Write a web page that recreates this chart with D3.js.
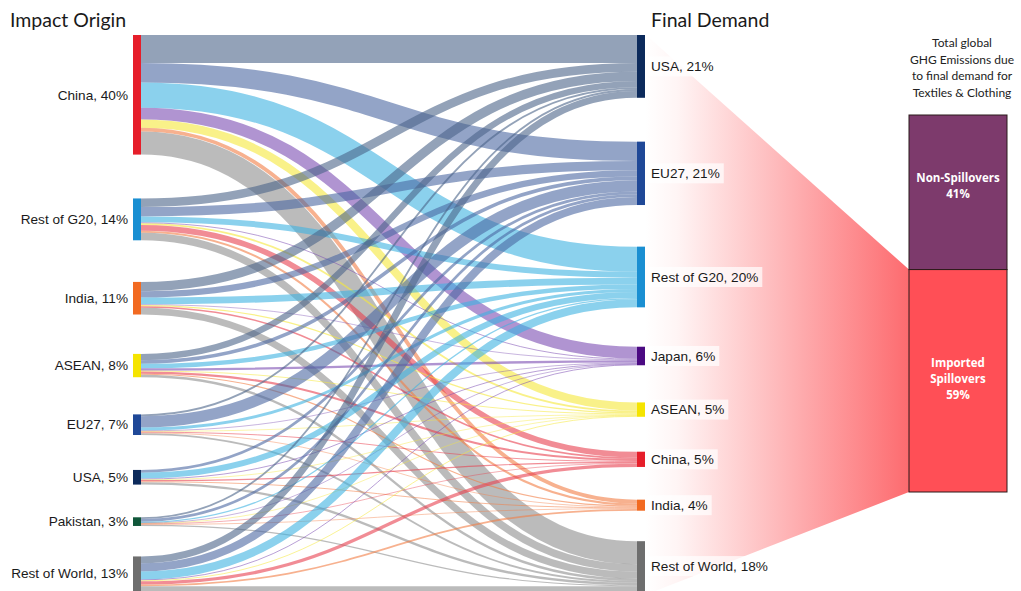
<!DOCTYPE html>
<meta charset="utf-8">
<style>
    body { margin: 0; background: #fff; }
    .lbl { font: 13.6px "Liberation Sans", Arial, sans-serif; fill: #1a1a1a; }
    .title { font: 19.5px Lato, "Open Sans", sans-serif; fill: #1a1a1a; }
    .bartitle { font: 12px Lato, "Open Sans", sans-serif; fill: #222; }
    .barlbl { font: bold 11.5px "Open Sans", sans-serif; fill: #fff; }
</style>
<body>
<div id="plotarea"></div>
<script src="https://cdn.jsdelivr.net/npm/d3@7"></script>
<script>

    // impact origin (left) and final demand (right)
    var origins = ["China", "Rest of G20", "India", "ASEAN", "EU27", "USA", "Pakistan", "Rest of World"];
    var originShares = [40, 14, 11, 8, 7, 5, 3, 13];
    var demands = ["USA", "EU27", "Rest of G20", "Japan", "ASEAN", "China", "India", "Rest of World"];
    var demandShares = [21, 21, 20, 6, 5, 5, 4, 18];

    // flows in % of total, rows = origin, columns = demand (same order as demands)
    var flows = [
        [9.4, 6.5, 8.4, 4.0, 2.7, 0.0, 1.3, 7.7],
        [2.9, 3.1, 2.0, 0.3, 0.6, 1.9, 0.7, 2.5],
        [3.1, 2.1, 2.3, 0.2, 0.4, 0.5, 0.0, 2.3],
        [2.1, 1.2, 1.5, 0.8, 0.3, 0.7, 0.4, 0.8],
        [0.6, 3.8, 1.0, 0.2, 0.2, 0.3, 0.2, 0.6],
        [0.0, 0.9, 2.0, 0.3, 0.2, 0.4, 0.3, 0.8],
        [0.6, 0.9, 0.4, 0.1, 0.1, 0.2, 0.2, 0.4],
        [2.3, 2.7, 2.7, 0.3, 0.3, 1.1, 0.6, 2.9]
    ];

    // split of total global GHG emissions
    var splitNames = [["Non-Spillovers"], ["Imported", "Spillovers"]];
    var splitShares = [41, 59];
    var barTitle = ["Total global", "GHG Emissions due", "to final demand for", "Textiles & Clothing"];

    var originColors = ["#e61e2a", "#1a8fd2", "#f26a21", "#f5e400", "#1f4897", "#0c2a5b", "#10573a", "#6e6e6e"];
    var demandColors = ["#0c2a5b", "#1f4897", "#1a8fd2", "#4b0a82", "#f5e400", "#e61e2a", "#f26a21", "#6e6e6e"];
    var linkColors = ["#4b6489", "#4b67a1", "#3db2e1", "#7b4cb2", "#f5e83a", "#e8404f", "#f27d45", "#8e8e8e"];

    var width = 1021, height = 591;
    var yTop = 35, yBottom = 595;
    var xLeft = 133, xRight = 637, nodeW = 8;

    var svg = d3.select("#plotarea").append("svg")
            .attr("width", width)
            .attr("height", height);

    var k = d3.scaleLinear().domain([0, 1]).range([0, 2.99]);

    var rowSums = flows.map(function(r) { return d3.sum(r); });
    var colSums = demands.map(function(d, j) { return d3.sum(flows, function(r) { return r[j]; }); });

    // gaps shrink a little towards the bottom
    function column(names, values) {
        var gaps = names.length - 1;
        var pad = (yBottom - yTop - k(d3.sum(values))) / gaps;
        var y = yTop;
        return names.map(function(name, i) {
            var n = {name: name, i: i, y0: y, y1: y + k(values[i])};
            y = n.y1 + pad * (1 + 0.06 * (3 - i));
            return n;
        });
    }

    var left = column(origins, rowSums);
    var right = column(demands, colSums);

    // funnel to the stacked bar
    var bar = d3.scaleLinear().domain([0, 100]).range([115, 492]);
    var barX = 909, barW = 98;

    var defs = svg.append("defs");
    var grad = defs.append("linearGradient")
            .attr("id", "funnel")
            .attr("gradientUnits", "userSpaceOnUse")
            .attr("x1", xRight + nodeW).attr("x2", barX)
            .attr("y1", 0).attr("y2", 0);
    grad.append("stop").attr("offset", "0").attr("stop-color", "#fff");
    grad.append("stop").attr("offset", "0.12").attr("stop-color", "#fff5f5");
    grad.append("stop").attr("offset", "1").attr("stop-color", "#fd6b6f");

    var fTop = bar(splitShares[0]), fBot = bar(100);
    svg.append("path")
            .attr("d", "M" + (xRight + nodeW) + "," + 34 +
                    "L" + barX + "," + fTop +
                    "L" + barX + "," + fBot +
                    "L" + (xRight + nodeW) + "," + yBottom + "Z")
            .style("fill", "url(#funnel)");

    // links
    var srcOff = left.map(function(n) { return n.y0; });
    var tgtOff = right.map(function(n) { return n.y0; });
    var links = [];
    flows.forEach(function(r, i) {
        r.forEach(function(v, j) {
            if (v <= 0) return;
            links.push({s: i, t: j, v: v, sy: srcOff[i] + k(v) / 2});
            srcOff[i] += k(v);
        });
    });
    demands.forEach(function(d, j) {
        links.filter(function(l) { return l.t === j; }).forEach(function(l) {
            l.ty = tgtOff[j] + k(l.v) / 2;
            tgtOff[j] += k(l.v);
        });
    });

    var linkPath = d3.linkHorizontal();

    svg.append("g").selectAll("path")
            .data(links)
            .enter().append("path")
            .attr("d", function(d) {
                return linkPath({source: [xLeft + nodeW, d.sy], target: [xRight, d.ty]});
            })
            .style("fill", "none")
            .style("stroke", function(d) { return linkColors[d.t]; })
            .style("stroke-opacity", 0.6)
            .style("stroke-width", function(d) { return Math.max(0.7, k(d.v)); });

    // nodes
    svg.append("g").selectAll("rect")
            .data(left)
            .enter().append("rect")
            .attr("x", xLeft).attr("width", nodeW)
            .attr("y", function(d) { return d.y0; })
            .attr("height", function(d) { return d.y1 - d.y0; })
            .style("fill", function(d) { return originColors[d.i]; });

    svg.append("g").selectAll("rect")
            .data(right)
            .enter().append("rect")
            .attr("x", xRight).attr("width", nodeW)
            .attr("y", function(d) { return d.y0; })
            .attr("height", function(d) { return d.y1 - d.y0; })
            .style("fill", function(d) { return demandColors[d.i]; });

    // labels
    svg.append("g").selectAll("text")
            .data(left)
            .enter().append("text")
            .attr("class", "lbl")
            .attr("text-anchor", "end")
            .attr("x", xLeft - 5)
            .attr("y", function(d) { return (d.y0 + Math.min(d.y1, height)) / 2; })
            .attr("dy", "0.35em")
            .text(function(d) { return d.name + ", " + originShares[d.i] + "%"; });

    var rl = svg.append("g").selectAll("g")
            .data(right)
            .enter().append("g")
            .attr("transform", function(d) {
                return "translate(" + (xRight + nodeW + 6) + "," + (d.y0 + Math.min(d.y1, height)) / 2 + ")";
            });
    rl.append("text")
            .attr("class", "lbl")
            .attr("dy", "0.35em")
            .text(function(d) { return d.name + ", " + demandShares[d.i] + "%"; });
    rl.insert("rect", "text")
            .attr("x", -3).attr("y", -10).attr("height", 20)
            .attr("width", function() { return this.parentNode.querySelector("text").getComputedTextLength() + 7; })
            .style("fill", "#fff").style("fill-opacity", 0.7);

    svg.append("text").attr("class", "title").attr("x", 10).attr("y", 27).text("Impact Origin");
    svg.append("text").attr("class", "title").attr("x", 651).attr("y", 27).text("Final Demand");

    // stacked bar
    var barColors = ["#7d3a6c", "#ff4f56"];
    var acc = 0;
    splitShares.forEach(function(s, i) {
        var y0 = bar(acc), y1 = bar(acc + s);
        acc += s;
        svg.append("rect")
                .attr("x", barX).attr("y", y0)
                .attr("width", barW).attr("height", y1 - y0)
                .style("fill", barColors[i])
                .style("stroke", "#2a1a1a").style("stroke-width", 1);
        var lines = splitNames[i].concat([s + "%"]);
        var cy = i === 0 ? y0 + 67 : y0 + 97;
        svg.append("text")
                .attr("class", "barlbl")
                .attr("text-anchor", "middle")
                .selectAll("tspan")
                .data(lines)
                .enter().append("tspan")
                .attr("x", barX + barW / 2)
                .attr("y", function(d, n) { return cy + n * 16; })
                .text(function(d) { return d; });
    });

    svg.append("text")
            .attr("class", "bartitle")
            .attr("text-anchor", "middle")
            .selectAll("tspan")
            .data(barTitle)
            .enter().append("tspan")
            .attr("x", barX + barW / 2 + 4)
            .attr("y", function(d, n) { return 47 + n * 16.7; })
            .text(function(d) { return d; });

</script>
